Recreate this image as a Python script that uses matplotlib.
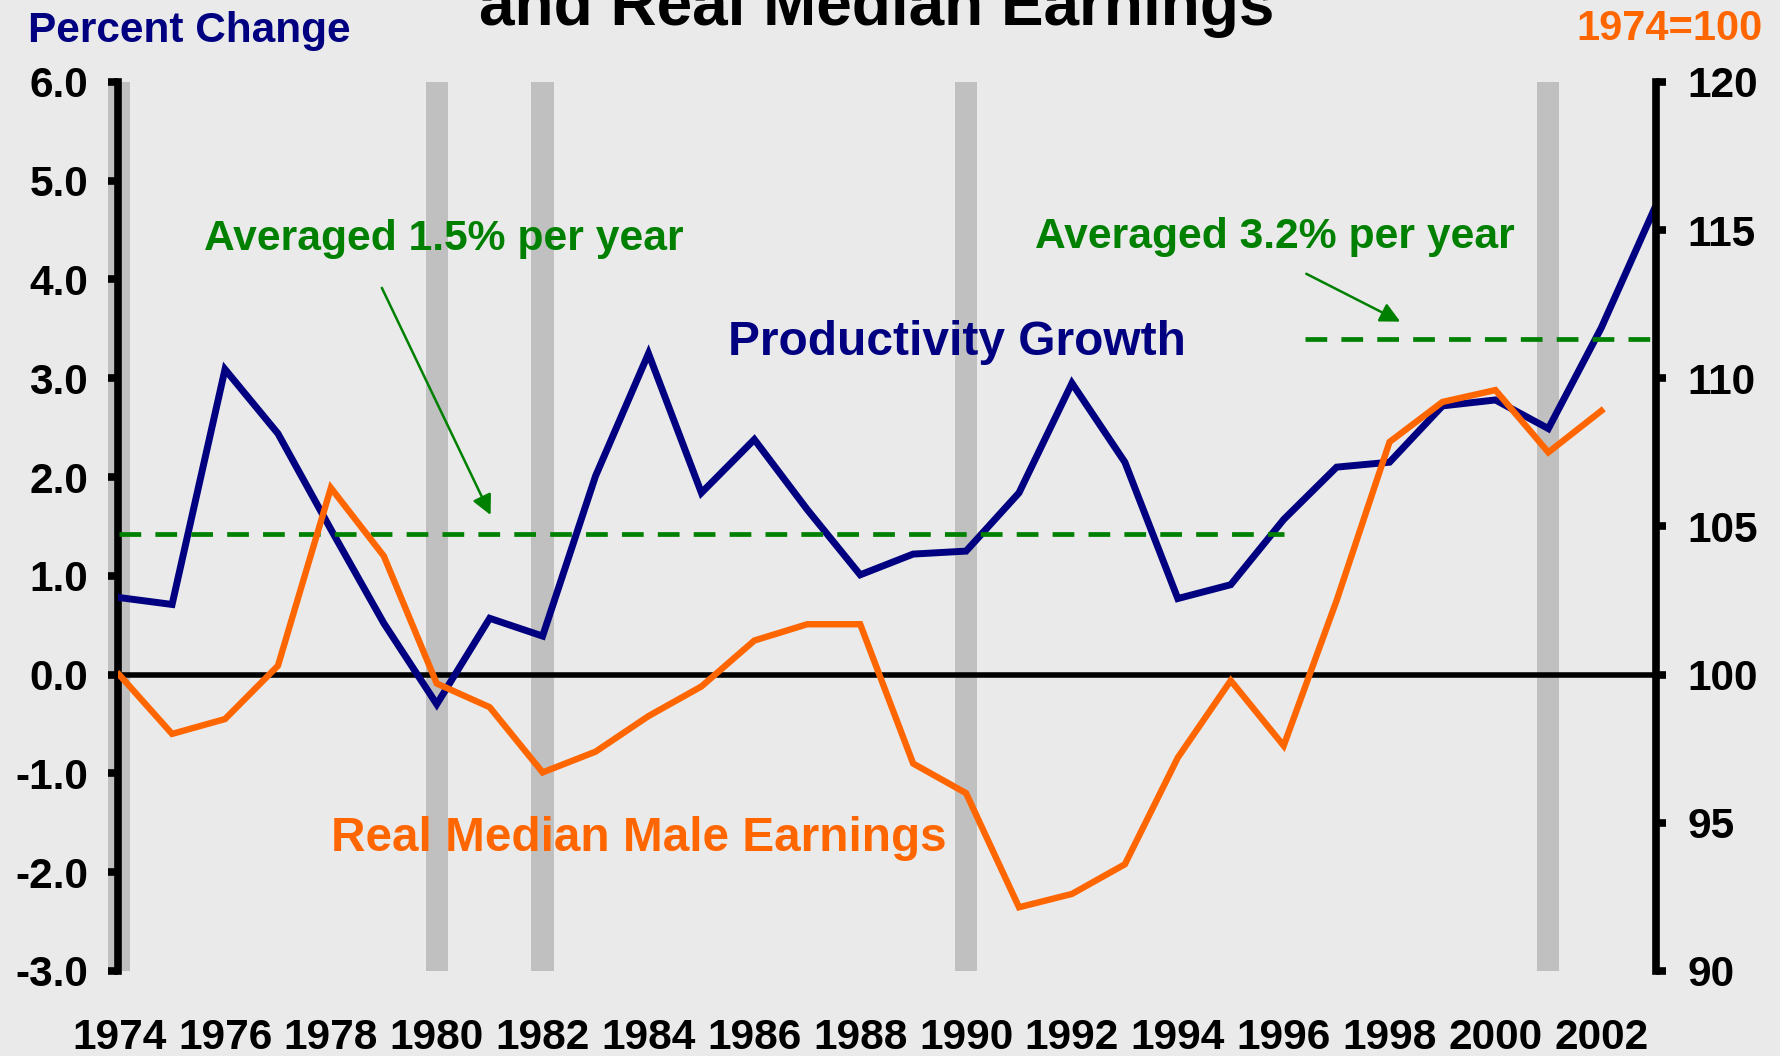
import numpy as np
import matplotlib
matplotlib.use("Agg")
from matplotlib import pyplot as plt

plt.rcParams['font.family'] = ['Liberation Sans', 'DejaVu Sans']
plt.rcParams['font.weight'] = 'bold'
plt.rcParams['axes.unicode_minus'] = False

# data
years = list(range(1974, 2004))
productivity = [0.78, 0.71, 3.09, 2.44, 1.47, 0.52, -0.30, 0.57, 0.39, 2.01,
                3.25, 1.84, 2.38, 1.67, 1.01, 1.22, 1.25, 1.84, 2.95, 2.15,
                0.77, 0.91, 1.57, 2.10, 2.15, 2.72, 2.78, 2.49, 3.51, 4.71]
earn_years = list(range(1974, 2003))
earnings = [100.0, 98.0, 98.5, 100.3, 106.3, 104.0, 99.7, 98.9, 96.7, 97.4,
            98.6, 99.6, 101.15, 101.7, 101.7, 97.0, 96.0, 92.15, 92.6, 93.6,
            97.2, 99.8, 97.6, 102.5, 107.85, 109.2, 109.6, 107.5, 108.9]
recessions = [1974, 1980, 1982, 1990, 2001]
avg_periods = [(1974, 1996, 1.42), (1996.4, 2003, 3.40)]
left_ticks = [-3, -2, -1, 0, 1, 2, 3, 4, 5, 6]
right_ticks = [90, 95, 100, 105, 110, 115, 120]
xtick_years = list(range(1974, 2003, 2))

navy = '#000080'
orange = '#FF6600'
green = '#008000'
bg = '#EAEAEA'

fig = plt.figure(figsize=(17.81, 10.56), dpi=100, facecolor=bg)
ax = fig.add_axes([0.0663, 0.0805, 0.8637, 0.842], facecolor=bg)
ax2 = ax.twinx()

for r in recessions:
    ax.axvspan(r - 0.21, r + 0.21, color='#C0C0C0', lw=0, zorder=0, clip_on=False)

ax.axhline(0, color='black', lw=4.0, zorder=2)
ax.plot(years, productivity, color=navy, lw=5.0, zorder=3, solid_joinstyle='miter')
ax2.plot(earn_years, earnings, color=orange, lw=4.6, zorder=3, solid_joinstyle='miter')

for x0, x1, v in avg_periods:
    ax.plot([x0, x1], [v, v], color=green, lw=3.4, linestyle=(0, (4.6, 3.0)), zorder=4)

ax.set_xlim(1973.98, 2003.04)
ax.set_ylim(-3, 6)
ax2.set_ylim(90, 120)

ax.set_yticks(left_ticks)
ax.set_yticklabels(['%.1f' % t for t in left_ticks])
ax2.set_yticks(right_ticks)
ax2.set_yticklabels([str(t) for t in right_ticks])
ax.set_xticks(xtick_years)
ax.set_xticklabels([str(y) for y in xtick_years])

ax.tick_params(axis='y', labelsize=30.5, length=7.5, width=5.5, pad=14, direction='out')
ax2.tick_params(axis='y', labelsize=30.5, length=7.5, width=5.5, pad=15, direction='out')
ax.tick_params(axis='x', labelsize=30.5, length=0, pad=34)

for a in (ax, ax2):
    a.spines['top'].set_visible(False)
    a.spines['bottom'].set_visible(False)
    a.spines['left'].set_linewidth(5.5)
    a.spines['right'].set_linewidth(5.5)
ax2.spines['left'].set_visible(False)
ax.spines['right'].set_visible(False)

# annotations
ax.text(1975.6, 4.30, 'Averaged 1.5% per year', color=green, fontsize=30.7, ha='left', va='baseline')
ax.text(1991.3, 4.32, 'Averaged 3.2% per year', color=green, fontsize=30.7, ha='left', va='baseline')
ax.annotate('', xy=(1981.04, 1.59), xytext=(1978.94, 3.94),
            arrowprops=dict(arrowstyle='-|>', color=green, lw=1.8, mutation_scale=30), zorder=5)
ax.annotate('', xy=(1998.25, 3.56), xytext=(1996.38, 4.07),
            arrowprops=dict(arrowstyle='-|>', color=green, lw=1.8, mutation_scale=30), zorder=5)
ax.text(1985.5, 3.24, 'Productivity Growth', color=navy, fontsize=34.5, ha='left', va='baseline', zorder=6)
ax.text(1978.0, -1.79, 'Real Median Male Earnings', color=orange, fontsize=34.4, ha='left', va='baseline', zorder=6)

fig.text(28 / 1781, 1 - 42 / 1056, 'Percent Change', color=navy, fontsize=30.5, ha='left', va='baseline')
fig.text(1763 / 1781, 1 - 40 / 1056, '1974=100', color=orange, fontsize=30, ha='right', va='baseline')
fig.text(0.492, 1 - 25 / 1056, 'and Real Median Earnings', color='black', fontsize=46, ha='center', va='baseline')

fig.savefig('out.png', dpi=100, facecolor=bg)
